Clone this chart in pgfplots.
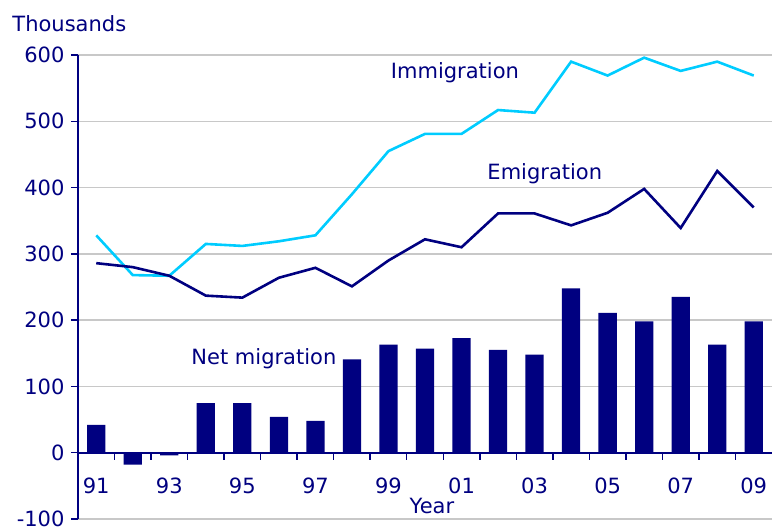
\documentclass[border=0pt]{standalone}
\usepackage{fontspec}
\setmainfont{DejaVu Sans}
\usepackage{pgfplots}
\pgfplotsset{compat=1.18}
\definecolor{navyc}{RGB}{0,0,128}
\definecolor{cyanc}{RGB}{0,204,255}
\definecolor{gridc}{RGB}{200,200,200}
\newcommand{\ff}{\fontsize{21}{25}\selectfont}
\begin{document}
\begin{tikzpicture}
\begin{axis}[
  scale only axis, width=694pt, height=464pt,
  xmin=-0.5, xmax=18.5, ymin=-100, ymax=600,
  axis y line*=left, axis x line*=middle,
  clip=false,
  axis line style={navyc, line width=2pt},
  ytick={-100,0,...,600},
  xtick={0,2,...,18},
  xticklabels={91,93,95,97,99,01,03,05,07,09},
  minor xtick={0.5,1.5,...,17.5},
  xticklabel style={yshift=-15pt},
  tick align=outside,
  xtick align=outside,
  major tick length=7pt,
  minor tick length=7pt,
  tick style={navyc, line width=1.5pt},
  major x tick style={draw=none},
  minor x tick style={navyc, line width=1.5pt},
  ymajorgrids,
  grid style={gridc, line width=1.5pt},
  tick label style={font=\ff, text=navyc},
  /pgf/number format/assume math mode=true,
  yticklabel style={xshift=-3pt},
]
\addplot[ybar, bar width=0.5, fill=navyc, draw=none] coordinates {
(0,42) (1,-18) (2,-4) (3,75) (4,75) (5,54) (6,48) (7,141) (8,163) (9,157)
(10,173) (11,155) (12,148) (13,248) (14,211) (15,198) (16,235) (17,163) (18,198)};
\addplot[cyanc, line width=2.6pt, mark=none] coordinates {
(0,328) (1,268) (2,267) (3,315) (4,312) (5,319) (6,328) (7,390) (8,455) (9,481)
(10,481) (11,517) (12,513) (13,590) (14,569) (15,596) (16,576) (17,590) (18,569)};
\addplot[navyc, line width=2.6pt, mark=none] coordinates {
(0,286) (1,280) (2,267) (3,237) (4,234) (5,264) (6,279) (7,251) (8,290) (9,322)
(10,310) (11,361) (12,361) (13,343) (14,362) (15,398) (16,339) (17,425) (18,370)};
\node[font=\ff, text=navyc] at (axis cs:9.82,574) {Immigration};
\node[font=\ff, text=navyc] at (axis cs:12.28,421) {Emigration};
\node[font=\ff, text=navyc] at (axis cs:4.59,142) {Net migration};
\node[font=\ff, text=navyc, anchor=west] at (axis cs:-2.39,648) {Thousands};
\node[font=\ff, text=navyc] at (axis cs:9.19,-80) {Year};
\coordinate (bl) at (axis cs:-2.635,-110.6);
\coordinate (tr) at (axis cs:18.5,683);
\end{axis}
\pgfresetboundingbox
\path[use as bounding box] (bl) rectangle (tr);
\end{tikzpicture}
\end{document}
